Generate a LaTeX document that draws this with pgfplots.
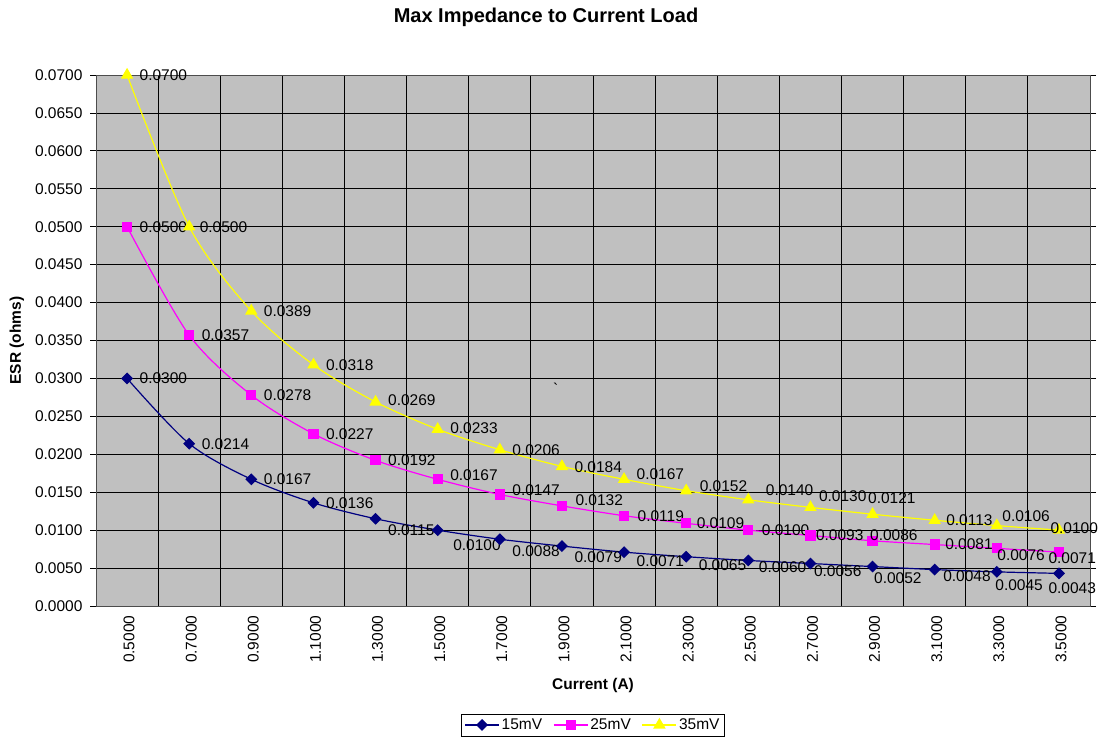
\documentclass[border=0pt]{standalone}
\usepackage{fontspec}
\setmainfont{Liberation Sans}
\usepackage{pgfplots}
\usepackage{pgfplotstable}
\pgfplotsset{compat=1.18}

\definecolor{plotgray}{RGB}{192,192,192}
\definecolor{navyline}{RGB}{0,0,128}
\definecolor{magline}{RGB}{255,0,255}
\definecolor{yelline}{RGB}{255,255,0}

% x = category index (0.5 A ... 3.5 A), dx/dy = label offsets
\pgfplotstableread{
x y dx dy
0 0.0300 12 0
1 0.0214 12 0
2 0.0167 12 0
3 0.0136 12 0
4 0.0115 12 -11
5 0.0100 15 -15
6 0.0088 12 -12
7 0.0079 12 -11
8 0.0071 12 -9
9 0.0065 12 -8
10 0.0060 10 -7
11 0.0056 3 -8
12 0.0052 1 -12
13 0.0048 8 -7
14 0.0045 -2 -13
15 0.0043 -11 -15
}\fifteen

\pgfplotstableread{
x y dx dy
0 0.0500 12 0
1 0.0357 12 0
2 0.0278 12 0
3 0.0227 12 0
4 0.0192 12 0
5 0.0167 12 4
6 0.0147 12 4
7 0.0132 13 6
8 0.0119 13 0
9 0.0109 10 0
10 0.0100 13 0
11 0.0093 5 0
12 0.0086 -3 6
13 0.0081 10 0
14 0.0076 0 -7
15 0.0071 -11 -6
}\twentyfive

\pgfplotstableread{
x y dx dy
0 0.0700 12 0
1 0.0500 10 0
2 0.0389 12 0
3 0.0318 12 0
4 0.0269 12 2
5 0.0233 12 1
6 0.0206 12 0
7 0.0184 12 -1
8 0.0167 12 5
9 0.0152 13 5
10 0.0140 17 10
11 0.0130 8 11
12 0.0121 -5 16
13 0.0113 11 0
14 0.0106 5 9
15 0.0100 -9 2
}\thirtyfive

\pgfplotsset{
  lbl/.style={
    point meta=\thisrow{y},
    visualization depends on={\thisrow{dx}\as\dx},
    visualization depends on={\thisrow{dy}\as\dy},
    nodes near coords={\pgfmathprintnumber[fixed,zerofill,precision=4]{\pgfplotspointmeta}},
    nodes near coords style={anchor=west, inner sep=0pt, text=black, xshift=\dx pt, yshift=\dy pt},
  },
}

\begin{document}
\begin{tikzpicture}[font=\fontsize{15.5pt}{18pt}\selectfont]
\path[use as bounding box] (0,0) rectangle (1104pt,740pt);
\node[font=\bfseries\fontsize{20pt}{24pt}\selectfont] at (546pt,723pt) {Max Impedance to Current Load};
\begin{axis}[
  at={(96pt,134pt)}, anchor=south west,
  scale only axis, width=994pt, height=531pt,
  xmin=-0.5, xmax=15.5, ymin=0, ymax=0.07,
  clip=false,
  axis background/.style={fill=plotgray},
  axis line style={draw=black!70, line width=0.8pt},
  /pgf/number format/assume math mode=true,
  xtick={0,...,15},
  xticklabels={0.5000,0.7000,0.9000,1.1000,1.3000,1.5000,1.7000,1.9000,2.1000,2.3000,2.5000,2.7000,2.9000,3.1000,3.3000,3.5000},
  xtick style={draw=none},
  minor xtick={-0.5,0.5,...,15.5},
  xminorgrids=true, ymajorgrids=true,
  grid style={black, line width=0.8pt},
  minor grid style={black, line width=0.8pt},
  tick align=outside,
  major tick length=6pt, minor tick length=6pt,
  tick style={black, line width=0.8pt},
  minor tick style={black, line width=0.8pt},
  xticklabel style={rotate=90, anchor=east, yshift=-2pt},
  ytick={0,0.005,0.01,0.015,0.02,0.025,0.03,0.035,0.04,0.045,0.05,0.055,0.06,0.065,0.07},
  scaled y ticks=false,
  yticklabel style={xshift=-4pt, /pgf/number format/fixed, /pgf/number format/zerofill, /pgf/number format/precision=4},
  xlabel={\bfseries Current (A)},
  ylabel={\bfseries ESR (ohms)},
  xlabel style={at={(axis description cs:0.5,-0.149)}, anchor=center},
  ylabel style={at={(axis description cs:-0.0795,0.5)}, anchor=center},
  legend columns=3,
  legend style={at={(0.5,-0.224)}, anchor=center, draw=black, fill=white,
    inner sep=3pt, /tikz/every even column/.append style={column sep=9pt}},
  legend image code/.code={\draw[mark repeat=2,mark phase=2] plot coordinates {(0pt,0pt) (17pt,0pt) (34pt,0pt)};},
]
\addplot[navyline, line width=1.2pt, smooth, mark=square*, mark size=3.6pt,
  mark options={fill=navyline, draw=navyline, rotate=45}, lbl]
  table[x=x, y=y] {\fifteen};
\addlegendentry{15mV}
\addplot[magline, line width=1.2pt, smooth, mark=square*, mark size=4.5pt,
  mark options={fill=magline, draw=magline}, lbl]
  table[x=x, y=y] {\twentyfive};
\addlegendentry{25mV}
\addplot[yelline, line width=1.2pt, smooth, mark=triangle*, mark size=6pt,
  mark options={fill=yelline, draw=yelline}, lbl]
  table[x=x, y=y] {\thirtyfive};
\addlegendentry{35mV}
\node at (axis cs:6.9,0.0287) {\textasciigrave};
\end{axis}
\end{tikzpicture}
\end{document}
